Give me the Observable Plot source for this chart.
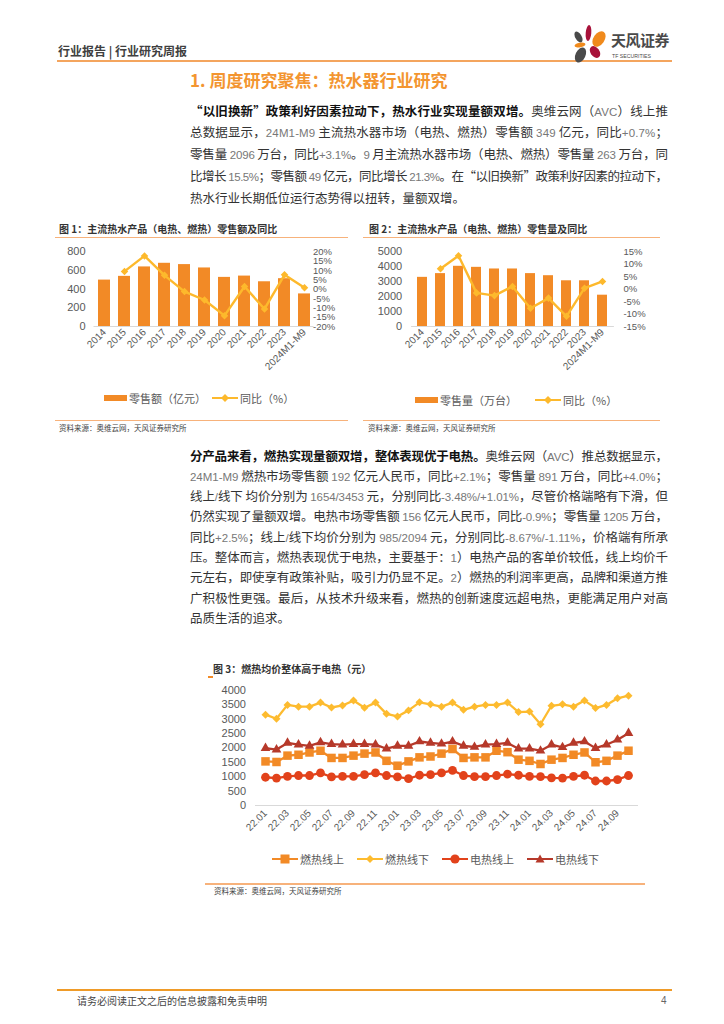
<!DOCTYPE html>
<html><head><meta charset="utf-8">
<script src="https://cdn.jsdelivr.net/npm/d3@7"></script>
<script src="https://cdn.jsdelivr.net/npm/@observablehq/plot@0.6"></script>
<style>
body{margin:0;background:#fff;}
#page{position:relative;width:724px;height:1024px;overflow:hidden;background:#fff;font-family:"Liberation Sans","Noto Sans CJK SC",sans-serif;color:#333;}
.a{position:absolute;white-space:nowrap;}
.cjk{font-family:"Noto Sans CJK SC",sans-serif;}
.pl{position:absolute;left:190px;height:21px;line-height:21px;font-size:12.5px;font-family:"Noto Sans CJK SC",sans-serif;color:#333;white-space:nowrap;}
.pl b{font-weight:bold;color:#111;}
.n{font-family:"Liberation Sans",sans-serif;color:#777;font-size:11.5px;}
.ftitle{position:absolute;font-size:10px;font-weight:bold;font-family:"Noto Sans CJK SC",sans-serif;color:#333;line-height:14px;white-space:nowrap;}
.rule{position:absolute;height:1.5px;background:#F7B27B;}
.src{position:absolute;font-size:7.5px;font-family:"Noto Sans CJK SC",sans-serif;color:#444;line-height:10px;white-space:nowrap;}
.leg{position:absolute;display:flex;align-items:center;font-size:11px;font-family:"Noto Sans CJK SC",sans-serif;color:#595959;line-height:14px;white-space:nowrap;}
.leg svg{display:block;}
.chart{position:absolute;}
</style>
</head><body>
<div id="page"></div>
<script>
// ---------- data ----------
const years = ["2014","2015","2016","2017","2018","2019","2020","2021","2022","2023","2024M1-M9"];
const retailValue = [497,537,638,677,663,627,526,540,479,512,349];          // 亿元
const retailValueYoY = [null,9.5,17.8,7.4,-1.3,-5.8,-14.2,1.4,-10.6,7.7,0.7]; // %
const retailVolume = [3290,3540,4030,3960,3850,3850,3540,3400,3060,3060,2096]; // 万台
const retailVolumeYoY = [null,8.2,13.4,-1.5,-2.6,1.1,-7.7,-3.6,-10.9,0.4,3.1]; // %
const valueTicks = [0,200,400,600,800];
const valueYoYTicks = [-20,-15,-10,-5,0,5,10,15,20];
const volumeTicks = [0,1000,2000,3000,4000,5000];
const volumeYoYTicks = [-15,-10,-5,0,5,10,15];

const months = ["22.01","22.02","22.03","22.04","22.05","22.06","22.07","22.08","22.09","22.10","22.11","22.12",
                "23.01","23.02","23.03","23.04","23.05","23.06","23.07","23.08","23.09","23.10","23.11","23.12",
                "24.01","24.02","24.03","24.04","24.05","24.06","24.07","24.08","24.09","24.10"];
const monthLabels = ["22.01","22.03","22.05","22.07","22.09","22.11","23.01","23.03","23.05","23.07","23.09","23.11","24.01","24.03","24.05","24.07","24.09"];
const gasOnline  = [1530,1510,1730,1760,1840,1900,1650,1650,1730,1800,1840,1550,1380,1530,1670,1700,1800,1960,1650,1670,1670,1900,1850,1590,1550,1440,1590,1650,1760,1840,1500,1550,1730,1900];
const gasOffline = [3150,3010,3490,3430,3430,3570,3400,3470,3640,3390,3570,3180,3090,3300,3580,3510,3430,3570,3320,3430,3490,3490,3570,3240,3260,2820,3460,3510,3430,3640,3380,3490,3720,3810];
const elecOnline = [980,950,1010,1040,1040,1130,990,1010,1010,1070,1130,1040,990,930,1050,1070,1130,1220,1040,1000,1000,1040,1090,1050,1010,1000,960,950,1010,1050,850,850,900,1040];
const elecOffline= [1990,1940,2170,2110,2070,2190,2130,2110,2130,2130,2110,1970,2070,2070,2220,2170,2140,2220,2070,2030,2110,2130,2170,1970,1970,1900,2110,2020,2170,2220,1990,2110,2280,2510];
const priceTicks = [0,500,1000,1500,2000,2500,3000,3500,4000];
const seriesNames = ["燃热线上","燃热线下","电热线上","电热线下"];
const seriesValues = [gasOnline, gasOffline, elecOnline, elecOffline];
const seriesColors = ["#F28A26","#FDBB2F","#E2421B","#B6392A"];
const seriesSymbols = ["square","diamond2","circle","triangle"];
const seriesR = [4.8,3.6,4.4,3.6];

const ORANGE = "#F28A26", YELLOW = "#FDB92C", AXIS = "#595959";

// ---------- page text ----------
const page = document.getElementById("page");
function add(html){ page.insertAdjacentHTML("beforeend", html); return page.lastElementChild; }
function numSpan(s){ return s.replace(/[0-9A-Za-z.+\-%\/]+/g, m => `<span class="n">${m}</span>`); }

// header
add(`<div class="a cjk" style="left:58px;top:43px;font-size:12px;font-weight:bold;color:#404040;line-height:16px;">行业报告 | 行业研究周报</div>`);
add(`<div class="a" style="left:57px;top:60px;width:615px;height:2px;background:#F4A55E;"></div>`);
add(`<svg class="a" style="left:570px;top:22px;" width="105" height="44" viewBox="0 0 105 44">
  <ellipse cx="8.5" cy="15" rx="3.2" ry="6" transform="rotate(-30 8.5 15)" fill="#4a4a4a"/>
  <ellipse cx="18.5" cy="11" rx="2.8" ry="8" transform="rotate(5 18.5 11)" fill="#A8123A"/>
  <ellipse cx="29" cy="17" rx="5.5" ry="8.5" transform="rotate(35 29 17)" fill="#F08A1C"/>
  <ellipse cx="10" cy="23" rx="5.5" ry="2.3" transform="rotate(-10 10 23)" fill="#F08A1C"/>
  <ellipse cx="25" cy="30" rx="4.5" ry="6.5" transform="rotate(-35 25 30)" fill="#A8123A"/>
  <ellipse cx="10.5" cy="33" rx="5" ry="8" transform="rotate(25 10.5 33)" fill="#4a4a4a"/>
</svg>`);
add(`<div class="a cjk" style="left:611px;top:31px;font-size:15px;font-weight:bold;color:#4a4a4a;line-height:18px;letter-spacing:-0.5px;">天风证券</div>`);
add(`<div class="a" style="left:612px;top:53px;font-size:5.2px;color:#4a4a4a;line-height:6px;">TF SECURITIES</div>`);

// section title
add(`<div class="a cjk" style="left:190px;top:69px;font-size:17px;font-weight:bold;color:#F39530;line-height:22px;">1. 周度研究聚焦：热水器行业研究</div>`);

const PARA_W = 478;
function paragraph(lines, y0, lh){
  lines.forEach((ln, i) => {
    const bold = ln.b ? `<b>${ln.b}</b>` : "";
    const el = add(`<div class="pl" style="top:${y0 + i*lh - 10.5}px;">${bold}${numSpan(ln.t)}</div>`);
    const last = i === lines.length - 1;
    const w = el.getBoundingClientRect().width;
    const nChars = el.textContent.length;
    if (!last || w > PARA_W) {
      const ls = (PARA_W - w) / Math.max(1, nChars - 1);
      el.style.letterSpacing = ls + "px";
      el.querySelectorAll("span,b").forEach(s => s.style.letterSpacing = ls + "px");
    }
  });
}
paragraph([
  {b:"“以旧换新”政策利好因素拉动下，热水行业实现量额双增。", t:"奥维云网（AVC）线上推"},
  {t:"总数据显示，24M1-M9 主流热水器市场（电热、燃热）零售额 349 亿元，同比+0.7%；"},
  {t:"零售量 2096 万台，同比+3.1%。9 月主流热水器市场（电热、燃热）零售量 263 万台，同"},
  {t:"比增长 15.5%；零售额 49 亿元，同比增长 21.3%。在“以旧换新”政策利好因素的拉动下，"},
  {t:"热水行业长期低位运行态势得以扭转，量额双增。"}
], 110, 21.8);
paragraph([
  {b:"分产品来看，燃热实现量额双增，整体表现优于电热。", t:"奥维云网（AVC）推总数据显示，"},
  {t:"24M1-M9 燃热市场零售额 192 亿元人民币，同比+2.1%；零售量 891 万台，同比+4.0%；"},
  {t:"线上/线下 均价分别为 1654/3453 元，分别同比-3.48%/+1.01%，尽管价格端略有下滑，但"},
  {t:"仍然实现了量额双增。电热市场零售额 156 亿元人民币，同比-0.9%；零售量 1205 万台，"},
  {t:"同比+2.5%；线上/线下均价分别为 985/2094 元，分别同比-8.67%/-1.11%，价格端有所承"},
  {t:"压。整体而言，燃热表现优于电热，主要基于：1）电热产品的客单价较低，线上均价千"},
  {t:"元左右，即使享有政策补贴，吸引力仍显不足。2）燃热的利润率更高，品牌和渠道方推"},
  {t:"广积极性更强。最后，从技术升级来看，燃热的创新速度远超电热，更能满足用户对高"},
  {t:"品质生活的追求。"}
], 455, 20.3);

// figure titles / rules / sources
add(`<div class="ftitle" style="left:59px;top:222px;">图 1：主流热水产品（电热、燃热）零售额及同比</div>`);
add(`<div class="rule" style="left:55px;top:236.5px;width:293px;"></div>`);
add(`<div class="ftitle" style="left:369px;top:222px;">图 2：主流热水产品（电热、燃热）零售量及同比</div>`);
add(`<div class="rule" style="left:363px;top:236.5px;width:297px;"></div>`);
add(`<div class="rule" style="left:55px;top:419.5px;width:293px;"></div>`);
add(`<div class="src" style="left:59px;top:423px;">资料来源：奥维云网，天风证券研究所</div>`);
add(`<div class="rule" style="left:363px;top:419.5px;width:297px;"></div>`);
add(`<div class="src" style="left:368px;top:423px;">资料来源：奥维云网，天风证券研究所</div>`);

add(`<div class="ftitle" style="left:213px;top:662px;">图 3：燃热均价整体高于电热（元）</div>`);
add(`<div class="a" style="left:208px;top:676px;width:5px;height:1.5px;background:#F28A26;"></div>`);
add(`<div class="rule" style="left:205px;top:883px;width:440px;"></div>`);
add(`<div class="src" style="left:214px;top:886px;">资料来源：奥维云网，天风证券研究所</div>`);

// footer
add(`<div class="a" style="left:57px;top:989px;width:615px;height:2px;background:#EF9B28;"></div>`);
add(`<div class="a cjk" style="left:77px;top:994px;font-size:10px;color:#444;line-height:14px;">请务必阅读正文之后的信息披露和免责申明</div>`);
add(`<div class="a" style="left:661px;top:994px;font-size:10px;color:#666;line-height:14px;">4</div>`);

// ---------- legends ----------
function legBar(color){ return `<svg width="23" height="8"><rect x="0" y="1" width="23" height="6" fill="${color}"/></svg>`; }
function legLine(color, symbol){
  let m = "";
  if (symbol === "diamond2") m = `<path d="M13,1 L17,5 L13,9 L9,5 Z" fill="${color}"/>`;
  if (symbol === "square") m = `<rect x="8.5" y="0.5" width="9" height="9" fill="${color}"/>`;
  if (symbol === "circle") m = `<circle cx="13" cy="5" r="4.6" fill="${color}"/>`;
  if (symbol === "triangle") m = `<path d="M13,0.5 L17.5,8.5 L8.5,8.5 Z" fill="${color}"/>`;
  return `<svg width="26" height="10"><line x1="0" y1="5" x2="26" y2="5" stroke="${color}" stroke-width="2"/>${m}</svg>`;
}
add(`<div class="leg" style="left:104px;top:391px;">${legBar(ORANGE)}<span style="margin-left:2px;">零售额（亿元）</span><span style="margin-left:6px;"></span>${legLine(YELLOW,"diamond2")}<span style="margin-left:2px;">同比（%）</span></div>`);
add(`<div class="leg" style="left:415px;top:393px;">${legBar(ORANGE)}<span style="margin-left:2px;">零售量（万台）</span><span style="margin-left:18px;"></span>${legLine(YELLOW,"diamond2")}<span style="margin-left:2px;">同比（%）</span></div>`);
const legX = [272, 357, 442, 527];
seriesNames.forEach((nm, i) => {
  add(`<div class="leg" style="left:${legX[i]}px;top:852px;">${legLine(seriesColors[i], seriesSymbols[i])}<span style="margin-left:2px;">${nm}</span></div>`);
});

// ---------- charts ----------
const chartStyle = {fontFamily:'"Liberation Sans","Noto Sans CJK SC",sans-serif', fontSize:"11px", color:AXIS, background:"transparent", overflow:"visible"};
const plain = d => String(d);

function comboChart({cats, bars, yoy, yMax, yoyMin, yoyMax, leftTicks, rightTicks, width, marginLeft, marginRight, padInner, leftPad, rightPad}) {
  const data = cats.map((c,i) => ({cat:c, v:bars[i], r:yoy[i]}));
  const toY = r => (r - yoyMin) / (yoyMax - yoyMin) * yMax;
  const lineData = data.filter(d => d.r != null);
  return Plot.plot({
    width, height:137, marginTop:8.3, marginBottom:54, marginLeft, marginRight,
    style: chartStyle,
    x:{type:"band", domain:cats, paddingInner:padInner, paddingOuter:padInner/2},
    y:{domain:[0,yMax]},
    marks:[
      Plot.barY(data, {x:"cat", y:"v", fill:ORANGE}),
      Plot.ruleY([0], {stroke:"#d9d9d9", strokeWidth:1}),
      Plot.line(lineData, {x:"cat", y:d => toY(d.r), stroke:YELLOW, strokeWidth:2.4}),
      Plot.dot(lineData, {x:"cat", y:d => toY(d.r), symbol:"diamond2", fill:YELLOW, r:3.4}),
      Plot.axisY(leftTicks, {anchor:"left", tickSize:0, tickPadding:leftPad, tickFormat:plain, color:AXIS, fontSize:11, label:null}),
      Plot.axisY(rightTicks, {anchor:"right", y:d => toY(d), text:d => `${d}%`, tickSize:0, tickPadding:rightPad, color:AXIS, fontSize:9.5, label:null}),
      Plot.axisX({tickRotate:-45, tickSize:0, tickPadding:4, color:AXIS, fontSize:10, label:null})
    ]
  });
}

function place(svg, left, top){
  const d = document.createElement("div");
  d.className = "chart";
  d.style.left = left + "px"; d.style.top = top + "px";
  d.appendChild(svg);
  page.appendChild(d);
}

place(comboChart({cats:years, bars:retailValue, yoy:retailValueYoY, yMax:800, yoyMin:-20, yoyMax:20,
  leftTicks:valueTicks, rightTicks:valueYoYTicks, width:300, marginLeft:38.5, marginRight:41.5, padInner:0.41, leftPad:8.5, rightPad:-1}), 55, 243);
place(comboChart({cats:years, bars:retailVolume, yoy:retailVolumeYoY, yMax:5000, yoyMin:-15, yoyMax:15,
  leftTicks:volumeTicks, rightTicks:volumeYoYTicks, width:310, marginLeft:51.1, marginRight:56.1, padInner:0.42, leftPad:9.4, rightPad:9}), 360, 243);

const priceMarks = [Plot.ruleY([0], {stroke:"#d9d9d9", strokeWidth:1})];
seriesValues.forEach((vals, s) => {
  const rows = months.map((m, i) => ({month:m, value:vals[i]}));
  priceMarks.push(Plot.line(rows, {x:"month", y:"value", stroke:seriesColors[s], strokeWidth:2.3}));
  priceMarks.push(Plot.dot(rows, {x:"month", y:"value", symbol:seriesSymbols[s], fill:seriesColors[s], r:seriesR[s]}));
});
priceMarks.push(Plot.axisY(priceTicks, {anchor:"left", tickSize:0, tickPadding:9.5, tickFormat:plain, color:AXIS, fontSize:11, label:null}));
priceMarks.push(Plot.axisX(monthLabels, {tickRotate:-45, tickSize:0, tickPadding:6, color:AXIS, fontSize:10, label:null}));
place(Plot.plot({
  width:443, height:169, marginTop:8.7, marginBottom:45, marginLeft:50, marginRight:10,
  style: chartStyle,
  x:{type:"point", domain:months, padding:0.5},
  y:{domain:[0,4000]},
  marks: priceMarks
}), 205, 681.3);
</script>
</body></html>
